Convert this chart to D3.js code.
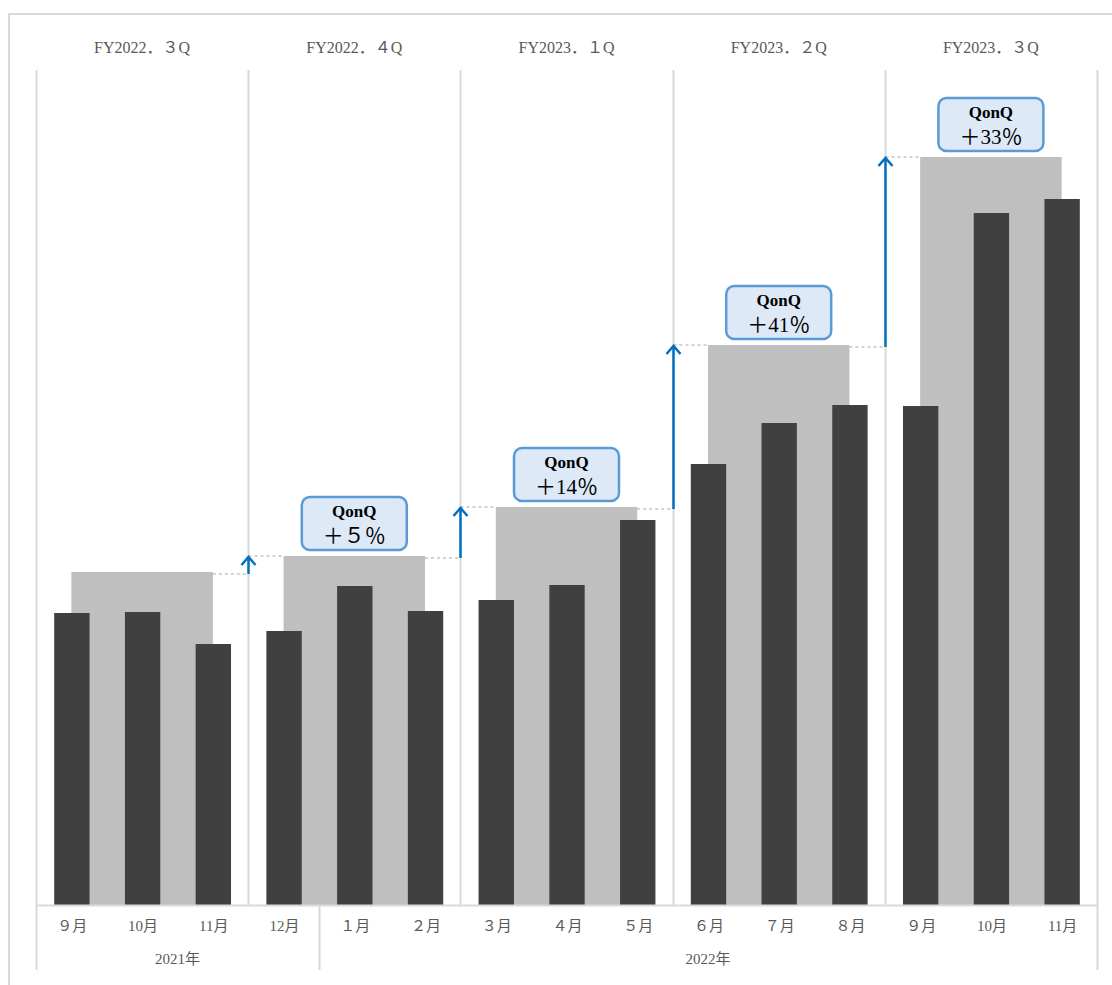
<!DOCTYPE html>
<html>
<head>
<meta charset="utf-8">
<script src="https://cdn.jsdelivr.net/npm/d3@7"></script>
<style>
  body { margin: 0; background: #fff; }
  svg { display: block; }
</style>
</head>
<body>
<script>
// months (x categories) and monthly values
var months = ["９月", "10月", "11月", "12月", "１月", "２月", "３月", "４月", "５月", "６月", "７月", "８月", "９月", "10月", "11月"];
var monthValues = [292, 293, 261, 274, 319, 294, 305, 320, 385, 441, 482, 500, 499, 692, 706];

// quarters
var quarters = ["FY2022．３Q", "FY2022．４Q", "FY2023．１Q", "FY2023．２Q", "FY2023．３Q"];
var quarterValues = [333, 349, 398, 560, 748];
var qonq = [null, "＋５％", "＋14％", "＋41％", "＋33％"];

// year groups: label, first month index, last month index
var years = ["2021年", "2022年"];
var yearSpans = [[0, 3], [4, 14]];

var W = 1112, H = 985;
var plotLeft = 36, plotRight = 1097, base = 905, plotTop = 70;

var svg = d3.select("body").append("svg")
    .attr("width", W)
    .attr("height", H);

var grid = "#d9d9d9";
var serif = "'Liberation Serif', 'DejaVu Serif', 'Noto Sans CJK JP', serif";

// outer frame (runs past the page edge)
svg.append("rect")
    .attr("x", 9).attr("y", 14)
    .attr("width", W).attr("height", H)
    .attr("fill", "none")
    .attr("stroke", grid)
    .attr("stroke-width", 2);

// scales
var x = d3.scaleBand()
    .domain(d3.range(months.length))
    .range([plotLeft, plotRight])
    .padding(0);

var xq = d3.scaleBand()
    .domain(d3.range(quarters.length))
    .range([plotLeft, plotRight])
    .padding(0);

var y = d3.scaleLinear()
    .domain([0, 835])
    .range([base, plotTop]);

var bw = x.bandwidth();
var barW = bw * 0.5;

// quarter separators
var seps = d3.range(quarters.length + 1).map(function(i) {
    return i < quarters.length ? xq(i) : plotRight;
});
svg.selectAll(".sep")
    .data(seps)
    .enter().append("line")
    .attr("class", "sep")
    .attr("x1", function(d) { return Math.round(d) + 0.5; })
    .attr("x2", function(d) { return Math.round(d) + 0.5; })
    .attr("y1", plotTop)
    .attr("y2", base)
    .attr("stroke", grid)
    .attr("stroke-width", 2);

// quarter labels
svg.selectAll(".qlab")
    .data(quarters)
    .enter().append("text")
    .attr("class", "qlab")
    .attr("x", function(d, i) { return xq(i) + xq.bandwidth() / 2; })
    .attr("y", 53)
    .attr("text-anchor", "middle")
    .style("font-family", serif)
    .style("font-size", "16px")
    .style("fill", "#595959")
    .text(function(d) { return d; });

// grey quarter bars: from centre of first month to centre of last month
function qx0(i) { return x(i * 3) + bw / 2; }
function qx1(i) { return x(i * 3 + 2) + bw / 2; }

svg.selectAll(".qbar")
    .data(quarterValues)
    .enter().append("rect")
    .attr("class", "qbar")
    .attr("x", function(d, i) { return qx0(i); })
    .attr("y", function(d) { return y(d); })
    .attr("width", function(d, i) { return qx1(i) - qx0(i); })
    .attr("height", function(d) { return base - y(d); })
    .attr("fill", "#bfbfbf");

// monthly dark bars
svg.selectAll(".mbar")
    .data(monthValues)
    .enter().append("rect")
    .attr("class", "mbar")
    .attr("x", function(d, i) { return x(i) + bw / 2 - barW / 2 + 0.5; })
    .attr("y", function(d) { return y(d); })
    .attr("width", barW)
    .attr("height", function(d) { return base - y(d); })
    .attr("fill", "#404040");

// dashed connectors and arrows between quarters
var blue = "#0070c0";
for (var i = 1; i < quarters.length; i++) {
    var sx = Math.round(xq(i)) + 0.5;
    var yPrev = y(quarterValues[i - 1]);
    var yNext = y(quarterValues[i]);
    svg.append("line")
        .attr("x1", qx1(i - 1)).attr("x2", sx)
        .attr("y1", yPrev + 2).attr("y2", yPrev + 2)
        .attr("stroke", "#a6a6a6")
        .attr("stroke-dasharray", "3,3");
    svg.append("line")
        .attr("x1", sx).attr("x2", qx0(i))
        .attr("y1", yNext).attr("y2", yNext)
        .attr("stroke", "#a6a6a6")
        .attr("stroke-dasharray", "3,3");
    svg.append("line")
        .attr("x1", sx).attr("x2", sx)
        .attr("y1", yPrev + 2).attr("y2", yNext + 1)
        .attr("stroke", blue)
        .attr("stroke-width", 2.5);
    svg.append("path")
        .attr("d", "M" + (sx - 7) + "," + (yNext + 9) + "L" + sx + "," + (yNext + 1) + "L" + (sx + 7) + "," + (yNext + 9))
        .attr("fill", "none")
        .attr("stroke", blue)
        .attr("stroke-width", 2.5);
}

// QonQ callouts
var boxW = 105, boxH = 53;
qonq.forEach(function(t, i) {
    if (!t) return;
    var cx = (qx0(i) + qx1(i)) / 2;
    var by = y(quarterValues[i]) - 6 - boxH;
    var g = svg.append("g");
    g.append("rect")
        .attr("x", cx - boxW / 2)
        .attr("y", by)
        .attr("width", boxW)
        .attr("height", boxH)
        .attr("rx", 8)
        .attr("fill", "#dde9f6")
        .attr("stroke", "#5b9bd5")
        .attr("stroke-width", 2.5);
    g.append("text")
        .attr("x", cx)
        .attr("y", by + 20)
        .attr("text-anchor", "middle")
        .style("font-family", serif)
        .style("font-weight", "bold")
        .style("font-size", "17px")
        .style("fill", "#000")
        .text("QonQ");
    g.append("text")
        .attr("x", cx)
        .attr("y", by + 46)
        .attr("text-anchor", "middle")
        .style("font-family", serif)
        .style("font-size", "21px")
        .style("fill", "#000")
        .text(t);
});

// category axis
svg.append("line")
    .attr("x1", plotLeft).attr("x2", plotRight)
    .attr("y1", base + 0.5).attr("y2", base + 0.5)
    .attr("stroke", grid)
    .attr("stroke-width", 2);

var axisSeps = [plotLeft, x(yearSpans[1][0]), plotRight];
svg.selectAll(".ysep")
    .data(axisSeps)
    .enter().append("line")
    .attr("class", "ysep")
    .attr("x1", function(d) { return Math.round(d) + 0.5; })
    .attr("x2", function(d) { return Math.round(d) + 0.5; })
    .attr("y1", base)
    .attr("y2", 970)
    .attr("stroke", grid)
    .attr("stroke-width", 2);

svg.selectAll(".mlab")
    .data(months)
    .enter().append("text")
    .attr("class", "mlab")
    .attr("x", function(d, i) { return x(i) + bw / 2 + 1; })
    .attr("y", 931)
    .attr("text-anchor", "middle")
    .style("font-family", serif)
    .style("font-size", "15px")
    .style("fill", "#595959")
    .text(function(d) { return d; });

svg.selectAll(".ylab")
    .data(years)
    .enter().append("text")
    .attr("class", "ylab")
    .attr("x", function(d, i) {
        var s = yearSpans[i];
        return (x(s[0]) + x(s[1]) + bw) / 2;
    })
    .attr("y", 964)
    .attr("text-anchor", "middle")
    .style("font-family", serif)
    .style("font-size", "15px")
    .style("fill", "#595959")
    .text(function(d) { return d; });
</script>
</body>
</html>
